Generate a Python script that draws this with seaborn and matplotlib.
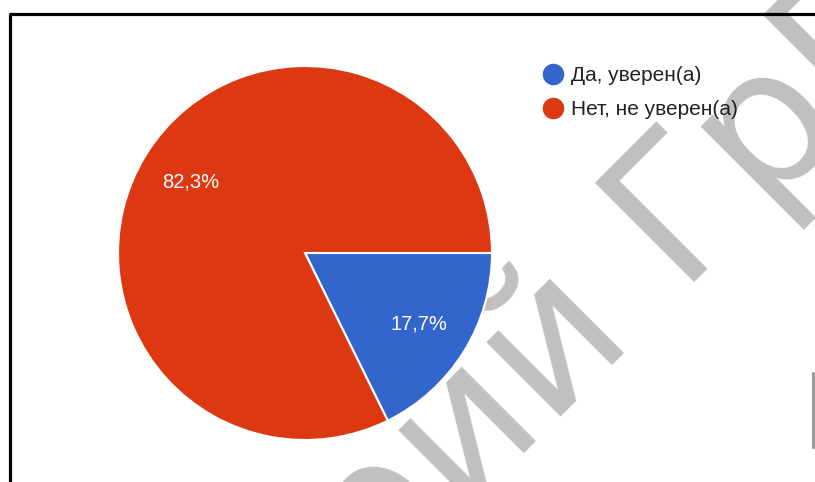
import matplotlib
matplotlib.use("Agg")
import matplotlib.pyplot as plt
from matplotlib.lines import Line2D
import seaborn as sns

sns.set_theme(style="white")
plt.rcParams["font.family"] = ["Liberation Sans", "DejaVu Sans"]

# data
categories = ["Да, уверен(а)", "Нет, не уверен(а)"]
shares = [17.7, 82.3]
palette = ["#3366CC", "#DC3912"]

W, H = 815, 482
fig = plt.figure(figsize=(W / 100, H / 100), dpi=100)
fig.patch.set_facecolor("white")

# pie: center (305, 253), radius 187 px
ax = fig.add_axes([118 / W, (H - 440) / H, 374 / W, 374 / H])
wedges, texts, autotexts = ax.pie(
    shares,
    colors=palette,
    startangle=0,
    counterclock=False,
    autopct=lambda p: f"{p:.1f}%".replace(".", ","),
    pctdistance=0.72,
    wedgeprops=dict(edgecolor="white", linewidth=1.5),
    textprops=dict(color="white", fontsize=14.5),
)
ax.set_xlim(-1, 1)
ax.set_ylim(-1, 1)
ax.set_aspect("equal")

# legend with round markers
handles = [
    Line2D([0], [0], marker="o", linestyle="", markersize=14.5,
           markerfacecolor=c, markeredgecolor=c)
    for c in palette
]
fig.legend(
    handles, categories,
    loc="upper left", bbox_to_anchor=(543 / W, 1 - 66 / H),
    frameon=False, fontsize=15, handlelength=1.0, handletextpad=0.35,
    labelspacing=0.74, borderpad=0, borderaxespad=0, labelcolor="#222222",
)

# scan watermark behind the chart
wm = dict(fontsize=138, color="#c0c0c0", rotation=45, rotation_mode="anchor",
          va="baseline", family="DejaVu Sans", zorder=-5)
fig.text(676 / W, 1 - 283 / H, "ГрГУ", ha="left", **wm)
fig.text((676 - 44) / W, 1 - (283 + 44) / H, "Репозиторий", ha="right", **wm)

# screenshot frame
fig.add_artist(Line2D([10 / W, 10 / W], [0, 1 - 14 / H], color="black", lw=2.3,
                      solid_capstyle="butt"))
fig.add_artist(Line2D([9 / W, 1], [1 - 14 / H, 1 - 14 / H], color="black", lw=2.3,
                      solid_capstyle="butt"))
fig.add_artist(Line2D([813 / W, 813 / W], [1 - 373 / H, 1 - 447 / H], color="#9a9a9a", lw=2.3))

fig.savefig("out.png", dpi=100)
